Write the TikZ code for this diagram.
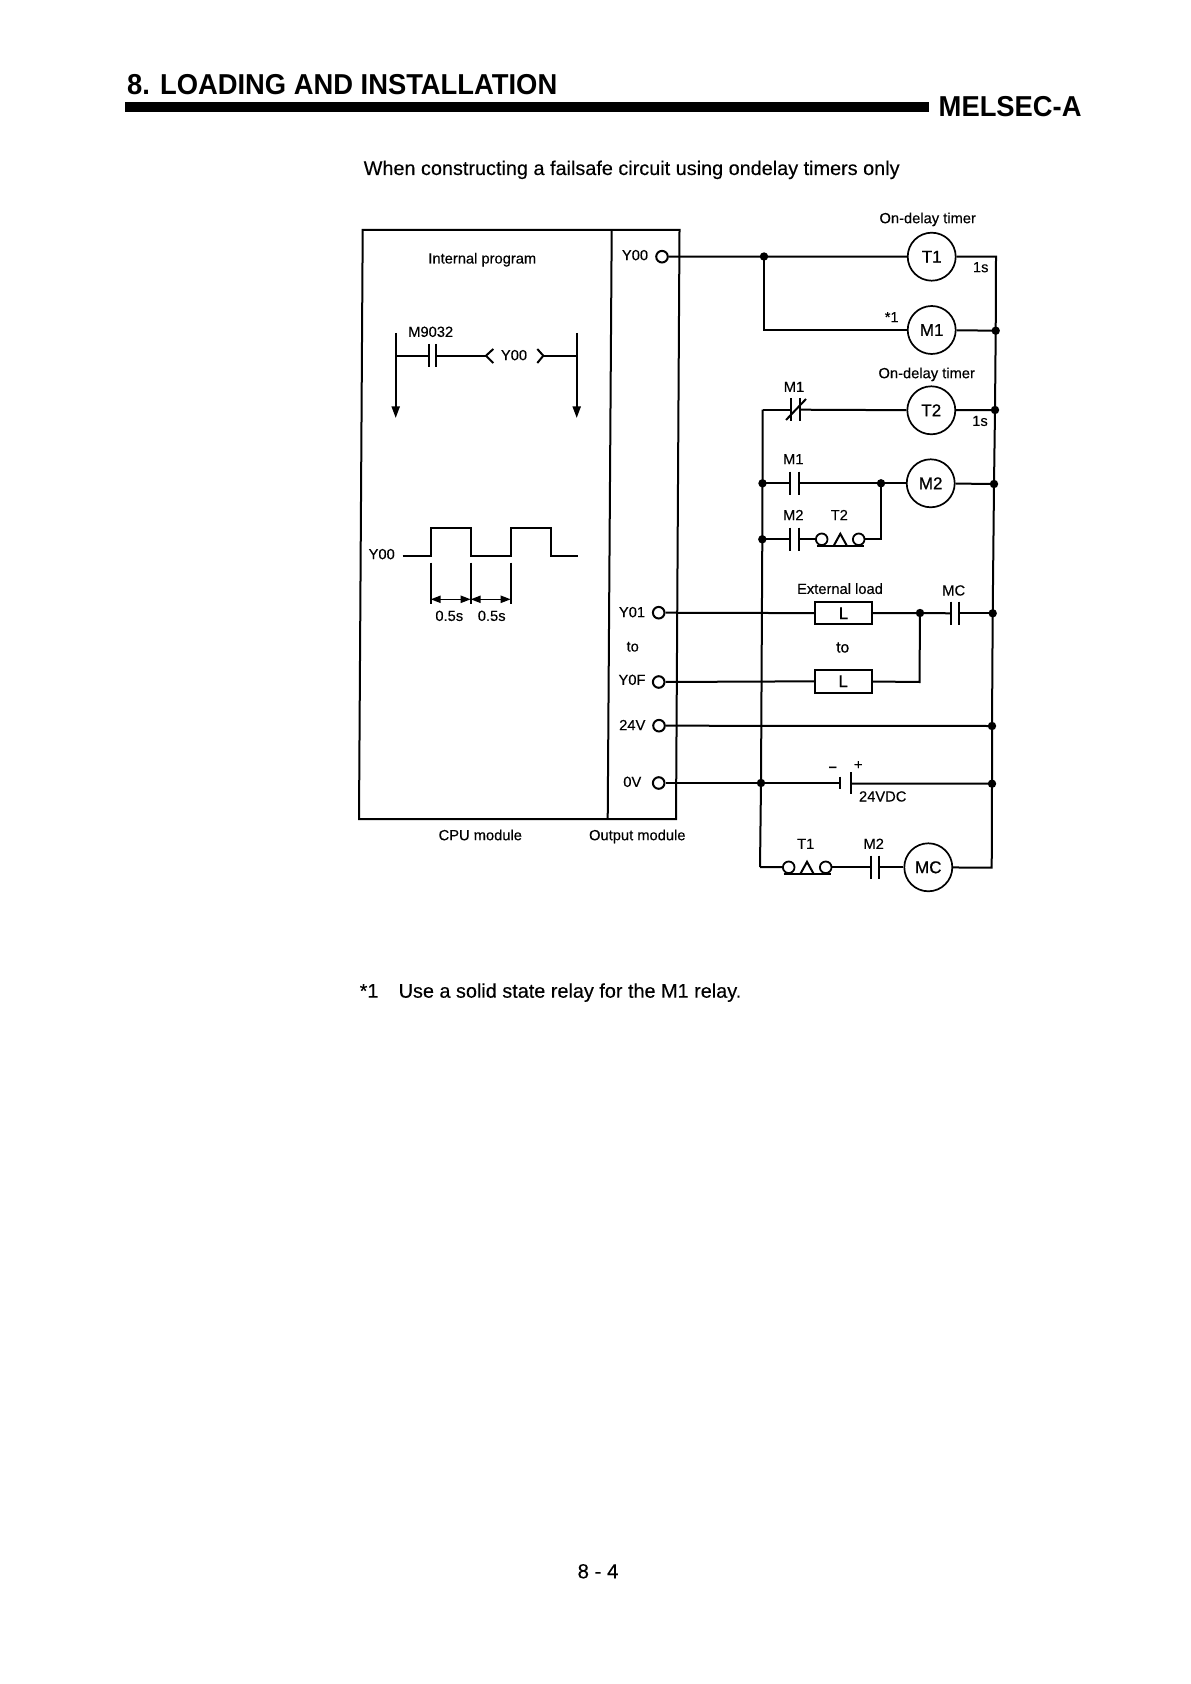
\documentclass[tikz,border=0pt]{standalone}
\usepackage{fontspec}
\setmainfont{Liberation Sans}
\newfontfamily\coilfont[FakeBold=0.7]{Liberation Sans}
\newfontfamily\labfont[FakeBold=0.25]{Liberation Sans}
\newfontfamily\headfont[FakeStretch=0.95]{Liberation Sans Bold}
\usetikzlibrary{arrows.meta}
\newcommand{\fsz}[1]{\fontsize{#1pt}{#1pt}\selectfont}
% contact: name, left plate x, right plate x, y
\newcommand{\mycontact}[4]{%
  \coordinate (#1-l) at (#2,#4);
  \coordinate (#1-r) at (#3,#4);
  \draw[wire] (#2,#4-11.7) -- (#2,#4+11.7);
  \draw[wire] (#3,#4-11.7) -- (#3,#4+11.7);
}
% timer contact: name, left circle x, apex x, right circle x, y
\newcommand{\mytimer}[5]{%
  \node[tcirc] (#1-a) at (#2,#5) {};
  \node[tcirc] (#1-b) at (#4,#5) {};
  \draw[wire] (#2-5,#5+6.3) -- (#4+5,#5+6.3);
  \draw[wire] (#3-6.5,#5+6.3) -- (#3,#5-5.5) -- (#3+6.5,#5+6.3);
}
\tikzset{
  wire/.style={line width=1pt,line join=miter},
  coil/.style={circle,draw,line width=0.85pt,minimum size=24pt,inner sep=0pt,font=\coilfont\fsz{8.5}},
  term/.style={circle,draw,line width=1pt,minimum size=5.8pt,inner sep=0pt},
  tcirc/.style={circle,draw,line width=0.9pt,minimum size=5.8pt,inner sep=0pt},
  jdot/.style={circle,fill=black,minimum size=4.2pt,inner sep=0pt},
  loadbox/.style={rectangle,draw,line width=0.9pt,minimum width=28.5pt,inner sep=0pt,font=\coilfont\fsz{8.5}},
  lab/.style={inner sep=0pt,font=\labfont\fsz{7.35},text height=5.2pt,text depth=0pt},
  big/.style={inner sep=0pt,anchor=base west,font=\labfont\fsz{9.92}},
  head/.style={inner sep=0pt,anchor=base west,font=\headfont\fsz{14.4}},
  rail/.style={wire,-{Triangle[length=5.8pt,width=4pt]}},
  dim/.style={line width=0.8pt,{Triangle[length=5pt,width=3.6pt]}-{Triangle[length=5pt,width=3.6pt]}},
}
\begin{document}
\begin{tikzpicture}[x=0.5pt,y=-0.5pt]
\useasboundingbox[fill=white] (0,0) rectangle (1190,1684);
% header
\node[head] (title) at (126.7,95) {8. LOADING AND INSTALLATION};
\fill[black] (124.7,102.3) rectangle (929.3,111.7);
\node[head] (melsec) at (938.3,116.7) {MELSEC-A};
\node[big] (intro) at (363.3,175) {When constructing a failsafe circuit using ondelay timers only};
% module box
\coordinate (boxTL) at (362.7,230);
\coordinate (boxTM) at (611.7,230);
\coordinate (boxTR) at (679.5,230);
\coordinate (boxBL) at (359,819);
\coordinate (boxBM) at (607.7,819);
\coordinate (boxBR) at (676,819);
\draw[wire] (boxTL) -- (boxTR) -- (boxBR) -- (boxBL) -- cycle;
\draw[wire] (boxTM) -- (boxBM);
\node[lab] (lInternal) at (482.3,258.3) {Internal program};
\node[lab] (lCPU) at (480.3,835) {CPU module};
\node[lab] (lOutput) at (637.3,835) {Output module};
% ladder program
\node[lab] (lM9032) at (430.7,331.7) {M9032};
\coordinate (railLt) at (395.7,333);
\coordinate (railLb) at (395.7,418);
\coordinate (railRt) at (576.7,333);
\coordinate (railRb) at (576.7,418);
\coordinate (railLm) at (395.7,355.7);
\coordinate (railRm) at (576.7,355.7);
\draw[rail] (railLt) -- (railLb);
\draw[rail] (railRt) -- (railRb);
\mycontact{cP}{429.3}{435.7}{355.7}
\coordinate (brkL) at (486,355.7);
\coordinate (brkR) at (543.3,355.7);
\draw[wire] (railLm) -- (cP-l);
\draw[wire] (cP-r) -- (brkL);
\draw[wire] (brkR) -- (railRm);
\draw[wire] (493.3,349) -- (brkL) -- (493.3,363);
\draw[wire] (537.3,349) -- (brkR) -- (537.3,363);
\node[lab] (lY00b) at (514,355) {Y00};
% waveform
\node[lab] (lY00w) at (381.7,554) {Y00};
\draw[wire] (402.7,556) -- (431.3,556) -- (431.3,528.3) -- (471,528.3) -- (471,556) -- (510.7,556) -- (510.7,528.3) -- (550.7,528.3) -- (550.7,556) -- (578.3,556);
\coordinate (t1t) at (430.7,562.7); \coordinate (t1b) at (430.7,604);
\coordinate (t2t) at (470.7,562.7); \coordinate (t2b) at (470.7,604);
\coordinate (t3t) at (510.7,562.7); \coordinate (t3b) at (510.7,604);
\draw[line width=0.8pt] (t1t) -- (t1b);
\draw[line width=0.8pt] (t2t) -- (t2b);
\draw[line width=0.8pt] (t3t) -- (t3b);
\draw[dim] (430.7,599.3) -- (470.7,599.3);
\draw[dim] (470.7,599.3) -- (510.7,599.3);
\node[lab] (l05a) at (449.3,615.7) {0.5s};
\node[lab] (l05b) at (491.7,615.7) {0.5s};
% terminals
\node[lab] (lY00) at (635,255) {Y00};
\node[lab] (lY01) at (632,612) {Y01};
\node[lab] (lto) at (632.7,646.3) {to};
\node[lab] (lY0F) at (632,679.7) {Y0F};
\node[lab] (l24) at (632.3,725) {24V};
\node[lab] (l0V) at (632.3,781.7) {0V};
\node[term] (t00) at (662,256.7) {};
\node[term] (t01) at (658.7,612.7) {};
\node[term] (t0F) at (658.7,682) {};
\node[term] (t24) at (659,725.7) {};
\node[term] (t0V) at (658.7,783) {};
% coils
\node[coil] (T1) at (931.7,256.7) {T1};
\node[coil] (M1) at (931.7,330) {M1};
\node[coil] (T2) at (931.3,410.3) {T2};
\node[coil] (M2) at (930.7,483.3) {M2};
\node[coil] (MC) at (928.3,867.3) {MC};
% loads
\node[loadbox,minimum height=10.85pt] (L1) at (843.5,613.2) {L};
\node[loadbox,minimum height=11.5pt] (L2) at (843.2,681.2) {L};
% junctions
\node[jdot] (dTop) at (764,256.5) {};
\coordinate (kM1) at (764,330);
\coordinate (rT) at (996,256.7);
\node[jdot] (dM1) at (995.7,330.7) {};
\node[jdot] (dT2) at (995,410) {};
\node[jdot] (dM2) at (994,484) {};
\node[jdot] (dMC) at (992.7,613.3) {};
\node[jdot] (d24) at (992,726) {};
\node[jdot] (d0V) at (992,783.7) {};
\coordinate (rB) at (991.7,867.7);
\coordinate (lT) at (762.7,409.7);
\node[jdot] (dLa) at (762.5,483.3) {};
\node[jdot] (dLb) at (762.3,539.3) {};
\node[jdot] (dL0) at (761,783) {};
\coordinate (lB) at (760,867);
\node[jdot] (dHold) at (881,483.3) {};
\coordinate (kHold) at (881,539.3);
\node[jdot] (dLoad) at (920,613) {};
\coordinate (kLoad) at (919.5,682);
% rails
\draw[wire] (T1) -- (rT) -- (dM1.center) -- (dT2.center) -- (dM2.center) -- (dMC.center) -- (d24.center) -- (d0V.center) -- (rB) -- (MC);
\draw[wire] (lT) -- (dLa.center) -- (dLb.center) -- (dL0.center) -- (lB);
% T1 and M1 rungs
\draw[wire] (t00) -- (dTop.center) -- (T1);
\draw[wire] (dTop.center) -- (kM1) -- (M1);
\draw[wire] (M1) -- (dM1.center);
% T2 rung
\node[lab] (lM1a) at (794,386.7) {M1};
\mycontact{cM1n}{791}{800}{409.7}
\draw[wire] (lT) -- (cM1n-l);
\draw[wire] (cM1n-r) -- (T2);
\draw[wire] (786,420) -- (806,399);
\draw[wire] (T2) -- (dT2.center);
% M2 rung
\node[lab] (lM1b) at (793.3,459) {M1};
\mycontact{cM1}{790}{799}{483.3}
\draw[wire] (dLa.center) -- (cM1-l);
\draw[wire] (cM1-r) -- (dHold.center) -- (M2);
\draw[wire] (M2) -- (dM2.center);
% hold rung
\node[lab] (lM2a) at (793.3,515) {M2};
\node[lab] (lT2) at (839.3,515) {T2};
\mycontact{cM2}{790}{799}{539.3}
\mytimer{tT2}{821.7}{840.3}{858.7}{539.3}
\draw[wire] (dLb.center) -- (cM2-l);
\draw[wire] (cM2-r) -- (tT2-a);
\draw[wire] (tT2-b) -- (kHold) -- (dHold.center);
% loads rungs
\node[lab] (lExt) at (840,588.7) {External load};
\node[lab] (lMC) at (953.7,590.3) {MC};
\node[lab,font=\coilfont\fsz{7.8}] (lto2) at (842.7,647.3) {to};
\mycontact{cMC}{950.7}{959}{613.3}
\draw[wire] (t01) -- (L1);
\draw[wire] (L1) -- (dLoad.center) -- (cMC-l);
\draw[wire] (cMC-r) -- (dMC.center);
\draw[wire] (t0F) -- (L2);
\draw[wire] (L2) -- (kLoad) -- (dLoad.center);
% 24 V
\draw[wire] (t24) -- (d24.center);
% battery
\coordinate (bN) at (840,783);
\coordinate (bP) at (851.3,783.5);
\draw[wire] (t0V) -- (dL0.center) -- (bN);
\draw[wire] (bP) -- (d0V.center);
\draw[wire] (840,776.7) -- (840,789.3);
\draw[wire] (851.3,772.3) -- (851.3,794.3);
\node[lab] (lMinus) at (832.7,766) {\bfseries –};
\node[lab] (lPlus) at (858.3,764.3) {+};
\node[lab] (lVDC) at (882.7,796.3) {24VDC};
% MC rung
\node[lab] (lT1) at (805.7,843.7) {T1};
\node[lab] (lM2b) at (873.7,843.7) {M2};
\mytimer{tT1}{788.7}{807}{825.7}{867.3}
\mycontact{cM2b}{870.7}{879.3}{867.3}
\draw[wire] (lB) -- (tT1-a);
\draw[wire] (tT1-b) -- (cM2b-l);
\draw[wire] (cM2b-r) -- (MC);
% coil notes
\node[lab] (lOD1) at (927.7,218) {On-delay timer};
\node[lab] (lOD2) at (926.7,373) {On-delay timer};
\node[lab] (l1sa) at (980.7,267) {1s};
\node[lab] (l1sb) at (980,420.7) {1s};
\node[lab] (lStar) at (891.7,317) {*1};
% footnote and page number
\node[big] (fnMark) at (359.3,997.7) {*1};
\node[big] (fnText) at (398.3,997.7) {Use a solid state relay for the M1 relay.};
\node[inner sep=0pt,anchor=base,font=\labfont\fsz{10.2}] (page) at (598,1578.3) {8 - 4};
\end{tikzpicture}
\end{document}
